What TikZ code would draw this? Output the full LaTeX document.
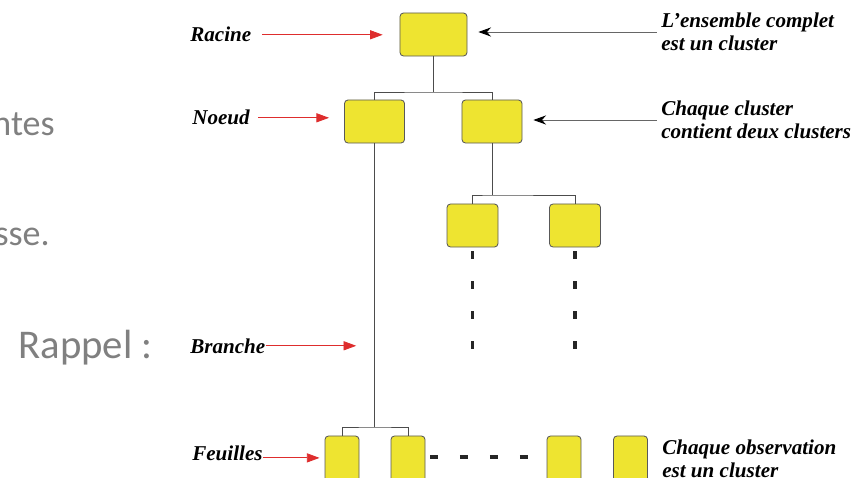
\documentclass[tikz,border=0pt]{standalone}
\usepackage{fontspec}
\setmainfont{Liberation Serif}
\newfontfamily\slidefont{Carlito}
\usetikzlibrary{arrows.meta}
\definecolor{boxyellow}{RGB}{238,228,48}
\definecolor{arrowred}{RGB}{222,45,45}
\definecolor{slidegray}{RGB}{128,128,128}
\tikzset{
  cluster/.style={draw=black!65,fill=boxyellow,rounded corners=2.5pt,line width=0.6pt,inner sep=0pt},
  tag/.style={font=\fontsize{15}{16.7}\selectfont\bfseries\itshape,inner sep=0pt},
  note/.style={tag,align=left},
  slide/.style={text=slidegray,inner sep=0pt,anchor=base east},
  redarrow/.style={draw=arrowred,line width=0.6pt,-{Triangle[length=9pt,width=6.5pt]}},
  blackarrow/.style={draw=black!60,line width=0.6pt,-{Stealth[length=9pt,width=6.5pt,color=black]}},
  link/.style={draw=black!70,line width=0.6pt},
  gaps/.style={draw=black!85,line width=2.2pt,dash pattern=on 5.7pt off 15.6pt}
}
\begin{document}
\begin{tikzpicture}[x=0.025cm,y=-0.025cm]
  \useasboundingbox (0,0) rectangle (860,478);
  % slide text behind the figure
  \path (55,136) node[slide,font=\slidefont\fontsize{25.6}{28}\selectfont] (ntes) {ntes};
  \path (50,245) node[slide,font=\slidefont\fontsize{25.6}{28}\selectfont] (sse) {sse.};
  \path (153,358) node[slide,font=\slidefont\fontsize{29}{32}\selectfont] (rappel) {Rappel :};
  % clusters
  \path (433.5,34.5) node[cluster,minimum width=1.675cm,minimum height=1.075cm] (root) {};
  \path (374.5,121.5) node[cluster,minimum width=1.5cm,minimum height=1.075cm] (noeudA) {};
  \path (492,121.5) node[cluster,minimum width=1.5cm,minimum height=1.075cm] (noeudB) {};
  \path (472.5,225.5) node[cluster,minimum width=1.275cm,minimum height=1.075cm] (midA) {};
  \path (575,225.5) node[cluster,minimum width=1.275cm,minimum height=1.075cm] (midB) {};
  \path (342,466) node[cluster,minimum width=0.85cm,minimum height=1.5cm] (leafA) {};
  \path (408,466) node[cluster,minimum width=0.85cm,minimum height=1.5cm] (leafB) {};
  \path (564,466) node[cluster,minimum width=0.85cm,minimum height=1.5cm] (leafC) {};
  \path (630.5,466) node[cluster,minimum width=0.85cm,minimum height=1.5cm] (leafD) {};
  % tree links
  \coordinate (j1) at (433.5,92);
  \coordinate (j2) at (492,195);
  \coordinate (j3) at (374.5,427);
  \draw[link] (root) -- (j1);
  \draw[link] (noeudA.north) |- (j1) -| (noeudB.north);
  \draw[link] (noeudB) -- (j2);
  \draw[link] (midA.north) |- (j2) -| (midB.north);
  \draw[link] (noeudA) -- (j3);
  \draw[link] (leafA.north) |- (j3) -| (leafB.north);
  % elided parts
  \coordinate (endA) at (472.5,349);
  \coordinate (endB) at (575,349);
  \coordinate (dotsL) at (430,457);
  \coordinate (dotsR) at (528,457);
  \draw[gaps] ([yshift=-2.8pt]midA.south) -- (endA);
  \draw[gaps] ([yshift=-2.8pt]midB.south) -- (endB);
  \draw[gaps] (dotsL) -- (dotsR);
  % labels
  \path (190,42) node[tag,anchor=base west] (racine) {Racine};
  \path (192,125) node[tag,anchor=base west] (noeud) {Noeud};
  \path (190,353) node[tag,anchor=base west] (branche) {Branche};
  \path (192,460) node[tag,anchor=base west] (feuilles) {Feuilles};
  \path (661,32) node[note,anchor=west] (ensemble) {L’ensemble complet\\est un cluster};
  \path (661,120) node[note,anchor=west] (chaque) {Chaque cluster\\contient deux clusters};
  \path (662,459) node[note,anchor=west] (observation) {Chaque observation\\est un cluster};
  % arrows
  \draw[redarrow] ([xshift=7.8pt]racine.east) -- ([xshift=-12pt]racine.east -| root.west);
  \draw[redarrow] ([xshift=5.7pt]noeud.east) -- ([xshift=-10.7pt]noeud.east -| noeudA.west);
  \draw[redarrow] (branche.east) -- ([xshift=-13pt]branche.east -| noeudA.south);
  \draw[redarrow] ([yshift=1.5pt]feuilles.base east) -- ([yshift=1.5pt,xshift=-3.6pt]feuilles.base east -| leafA.west);
  \draw[blackarrow] ([xshift=-3pt]ensemble.west) -- ([xshift=7.8pt]ensemble.west -| root.east);
  \draw[blackarrow] ([xshift=-3pt]chaque.west) -- ([xshift=7.8pt]chaque.west -| noeudB.east);
\end{tikzpicture}
\end{document}
